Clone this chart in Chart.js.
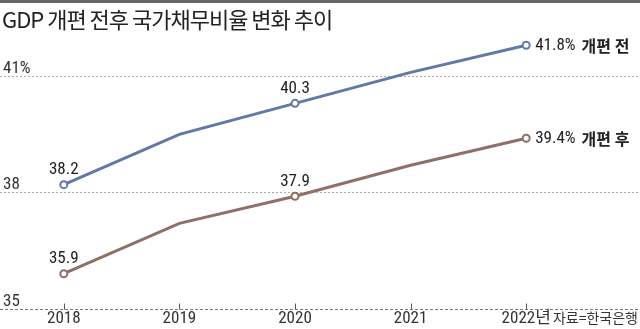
<!DOCTYPE html>
<html><head><meta charset="utf-8">
<style>html,body{margin:0;padding:0;background:#fff;overflow:hidden}#wrap{position:relative;width:640px;height:329px}</style>
<script src="https://cdn.jsdelivr.net/npm/chart.js@4.4.0/dist/chart.umd.min.js"></script>
</head><body><div id="wrap"><canvas id="c" width="640" height="329"></canvas></div>
<script>
const years = ['2018', '2019', '2020', '2021', '2022년'];
const beforeRevision = [38.2, 39.5, 40.3, 41.1, 41.8];
const afterRevision = [35.9, 37.2, 37.9, 38.7, 39.4];
const yTicks = [35, 38, 41];
const yTickLabels = ['35', '38', '41%'];
const seriesNames = ['개편 전', '개편 후'];
const labeledIndices = [0, 2];
const markedIndices = [0, 2, 4];
const titleText = 'GDP 개편 전후 국가채무비율 변화 추이';
const sourceText = '자료=한국은행';

const NARROW = '"Liberation Sans Narrow", "Roboto Condensed", "Noto Sans CJK KR", sans-serif';
const KR = '"Noto Sans CJK KR", "Noto Sans", sans-serif';
const colors = ['#6278a7', '#8f7065'];
const radii = years.map((_, i) => markedIndices.includes(i) ? 3.5 : 0);

const decor = {
  id: 'decor',
  beforeDatasetsDraw(chart) {
    const ctx = chart.ctx, y = chart.scales.y, x = chart.scales.x;
    const W = chart.width;
    ctx.save();
    ctx.fillStyle = '#666';
    ctx.fillRect(0, 0, W, 3);
    ctx.fillStyle = '#222';
    ctx.font = '22px ' + KR;
    ctx.letterSpacing = '-1px';
    ctx.textBaseline = 'middle';
    ctx.textAlign = 'left';
    ctx.fillText(titleText, 2, 20);
    ctx.letterSpacing = '0px';
    yTicks.forEach((v, i) => {
      const py = Math.round(y.getPixelForValue(v)) + 0.5;
      ctx.beginPath();
      ctx.setLineDash(i === 0 ? [3, 2] : [2, 2]);
      ctx.strokeStyle = i === 0 ? '#777' : '#aaa';
      ctx.lineWidth = 1;
      ctx.moveTo(0, py); ctx.lineTo(W, py);
      ctx.stroke();
      ctx.setLineDash([]);
      ctx.fillStyle = '#333';
      ctx.font = '17px ' + NARROW;
      ctx.textBaseline = 'alphabetic';
      ctx.fillText(yTickLabels[i], 3, py - 4);
    });
    const by = Math.round(y.getPixelForValue(yTicks[0])) + 0.5;
    ctx.strokeStyle = '#555';
    ctx.lineWidth = 1;
    years.forEach((_, i) => {
      const px = Math.round(x.getPixelForValue(i)) + 0.5;
      ctx.beginPath(); ctx.moveTo(px, by - 6); ctx.lineTo(px, by); ctx.stroke();
    });
    ctx.fillStyle = '#333';
    ctx.font = '14px ' + KR;
    ctx.textAlign = 'right';
    ctx.textBaseline = 'middle';
    ctx.fillText(sourceText, 638, 318);
    ctx.restore();
  },
  afterDatasetsDraw(chart) {
    const ctx = chart.ctx;
    ctx.save();
    chart.data.datasets.forEach((ds, di) => {
      const meta = chart.getDatasetMeta(di);
      ctx.fillStyle = '#222';
      labeledIndices.forEach(i => {
        const p = meta.data[i];
        ctx.font = '17px ' + NARROW;
        ctx.textAlign = 'center';
        ctx.textBaseline = 'alphabetic';
        ctx.fillText(ds.data[i].toFixed(1), p.x, p.y - 10.5);
      });
      const last = ds.data.length - 1;
      const p = meta.data[last];
      ctx.textAlign = 'left';
      ctx.textBaseline = 'middle';
      ctx.font = '17px ' + NARROW;
      const numText = ds.data[last].toFixed(1) + '%';
      ctx.fillText(numText, p.x + 9, p.y + 1);
      const w = ctx.measureText(numText).width;
      ctx.font = 'bold 16px ' + KR;
      ctx.fillText(seriesNames[di], p.x + 9 + w + 6, p.y + 1);
    });
    ctx.restore();
  }
};

new Chart(document.getElementById('c'), {
  type: 'line',
  data: {
    labels: years,
    datasets: [
      { label: seriesNames[0], data: beforeRevision, borderColor: colors[0], backgroundColor: '#fff',
        borderWidth: 3, pointRadius: radii, pointBorderWidth: 2, pointBackgroundColor: '#fff', pointBorderColor: colors[0], tension: 0 },
      { label: seriesNames[1], data: afterRevision, borderColor: colors[1], backgroundColor: '#fff',
        borderWidth: 3, pointRadius: radii, pointBorderWidth: 2, pointBackgroundColor: '#fff', pointBorderColor: colors[1], tension: 0 }
    ]
  },
  options: {
    responsive: false,
    animation: false,
    devicePixelRatio: 1,
    layout: { padding: { left: 4, right: 56, top: 37.5, bottom: 0 } },
    plugins: { legend: { display: false }, tooltip: { enabled: false }, title: { display: false } },
    scales: {
      x: {
        type: 'category', offset: true,
        grid: { display: false, drawTicks: false },
        border: { display: false },
        ticks: { color: '#333', font: { family: NARROW, size: 17 }, padding: 0, maxRotation: 0, autoSkip: false }
      },
      y: {
        display: false, min: 35, max: 42
      }
    }
  },
  plugins: [decor]
});
</script></body></html>
